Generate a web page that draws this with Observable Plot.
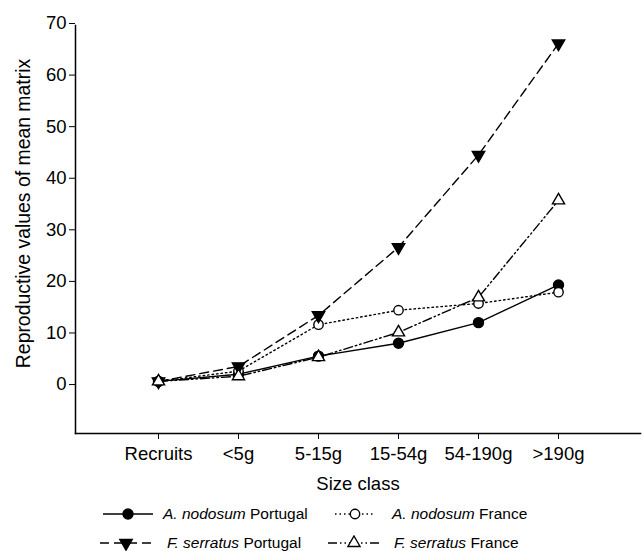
<!DOCTYPE html>
<html>
<head>
<meta charset="utf-8">
<script src="https://cdn.jsdelivr.net/npm/d3@7"></script>
<script src="https://cdn.jsdelivr.net/npm/@observablehq/plot@0.6"></script>
<style>
  body { margin: 0; background: #fff; }
  #chart svg { display: block; }
  #legend { position: relative; width: 643px; height: 56px; font: 15.5px "Liberation Sans", Arial, sans-serif; color: #000; }
  #legend .item { position: absolute; white-space: nowrap; }
</style>
</head>
<body>
<div id="chart"></div>
<div id="legend"></div>
<script>
const sizeClasses = ["Recruits", "<5g", "5-15g", "15-54g", "54-190g", ">190g"];
const yTicks = [0, 10, 20, 30, 40, 50, 60, 70];
const yLabel = "Reproductive values of mean matrix";
const xLabel = "Size class";
const nodosumPortugal = [1.0, 2.4, 5.9, 8.4, 12.4, 19.7];
const nodosumFrance   = [1.0, 3.0, 12.0, 14.8, 16.1, 18.3];
const serratusPortugal = [1.0, 3.9, 13.8, 27.0, 44.9, 66.5];
const serratusFrance   = [1.0, 2.0, 5.7, 10.5, 17.3, 36.1];

const series = [
  {genus: "A. nodosum", site: "Portugal", values: nodosumPortugal, dash: null, symbol: "circle", fill: "black", rotate: 0, r: 5},
  {genus: "A. nodosum", site: "France", values: nodosumFrance, dash: "1.5,3", symbol: "circle", fill: "white", rotate: 0, r: 4.7},
  {genus: "F. serratus", site: "Portugal", values: serratusPortugal, dash: "9,5", symbol: "triangle", fill: "black", rotate: 180, r: 4.6},
  {genus: "F. serratus", site: "France", values: serratusFrance, dash: "9,3,1.5,3,1.5,3", symbol: "triangle", fill: "white", rotate: 0, r: 4.5}
];

const marks = [
  Plot.frame({anchor: "left", stroke: "black", strokeWidth: 1.5}),
  Plot.frame({anchor: "bottom", stroke: "black", strokeWidth: 1.5}),
  Plot.axisY(yTicks, {tickSize: 6, tickPadding: 3, fontSize: 18.5, dy: -2, label: null}),
  Plot.axisX({tickSize: 6, tickPadding: 7, fontSize: 18.5,
    label: xLabel, labelArrow: "none", labelAnchor: "center", labelOffset: 56}),
  Plot.text([yLabel], {frameAnchor: "left", textAnchor: "middle", lineAnchor: "middle", rotate: -90,
    dx: -51.5, dy: -16, fontSize: 19.4, text: d => d, fill: "black"})
];
for (const s of series) {
  const rows = sizeClasses.map((c, i) => ({size: c, value: s.values[i]}));
  marks.push(Plot.line(rows, {x: "size", y: "value", stroke: "black", strokeWidth: 1.4, strokeDasharray: s.dash}));
}
for (const s of series) {
  const rows = sizeClasses.map((c, i) => ({size: c, value: s.values[i]}));
  marks.push(Plot.dot(rows, {x: "size", y: "value", symbol: s.symbol, r: s.r, fill: s.fill, stroke: "black", strokeWidth: 1.4, rotate: s.rotate}));
}

const chart = Plot.plot({
  width: 643,
  height: 495,
  marginLeft: 75,
  marginRight: 3,
  marginTop: 25,
  marginBottom: 62,
  style: {fontFamily: "'Liberation Sans', Arial, sans-serif", fontSize: "18.5px", color: "black", background: "white", overflow: "visible"},
  x: {type: "point", domain: sizeClasses, padding: 1},
  y: {domain: [-9.1, 70]},
  marks
});
document.getElementById("chart").appendChild(chart);

// Legend (HTML below the SVG)
const legendLayout = [
  {swX: 103, swW: 50, textX: 163, y: 19},
  {swX: 335, swW: 40, textX: 392, y: 19},
  {swX: 100, swW: 52, textX: 167, y: 48},
  {swX: 328, swW: 52, textX: 394, y: 48}
];
const legend = d3.select("#legend");
series.forEach((s, i) => {
  const L = legendLayout[i];
  const svg = legend.append("svg")
    .attr("class", "item")
    .attr("width", L.swW).attr("height", 16)
    .style("left", L.swX + "px").style("top", (L.y - 8) + "px");
  svg.append("line")
    .attr("x1", 0).attr("x2", L.swW).attr("y1", 8).attr("y2", 8)
    .attr("stroke", "black").attr("stroke-width", 1.4)
    .attr("stroke-dasharray", s.dash);
  const sym = s.symbol === "circle" ? d3.symbolCircle : d3.symbolTriangle;
  svg.append("path")
    .attr("d", d3.symbol(sym, Math.PI * s.r * s.r)())
    .attr("transform", `translate(${L.swW / 2},8) rotate(${s.rotate})`)
    .attr("fill", s.fill).attr("stroke", "black").attr("stroke-width", 1.4);
  const t = legend.append("div")
    .attr("class", "item")
    .style("left", L.textX + "px").style("top", (L.y - 9) + "px")
    .style("line-height", "18px");
  t.append("i").text(s.genus);
  t.append("span").text(" " + s.site);
});
</script>
</body>
</html>
